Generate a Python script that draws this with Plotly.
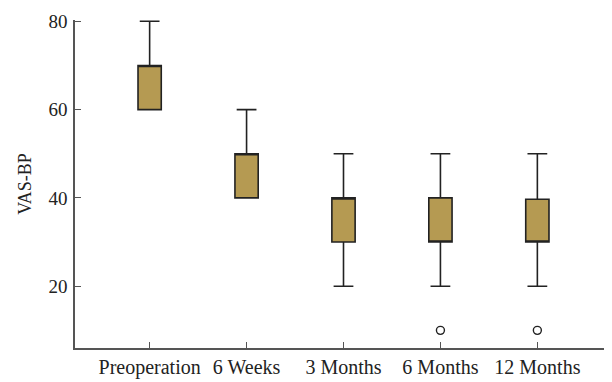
import plotly.graph_objects as go

categories = ["Preoperation", "6 Weeks", "3 Months", "6 Months", "12 Months"]
lower = [60, 40, 20, 20, 20]
q1 = [60, 40, 30, 30, 30]
median = [70, 50, 40, 30, 30]
q3 = [70, 50, 40, 40, 39.7]
upper = [80, 60, 50, 50, 50]
outlier_x = ["6 Months", "12 Months"]
outlier_y = [10, 10]
y_ticks = [20, 40, 60, 80]

fig = go.Figure()
fig.add_trace(go.Box(
    x=categories, q1=q1, median=median, q3=q3,
    lowerfence=lower, upperfence=upper,
    fillcolor="#B59A52", line=dict(color="#222222", width=1.6),
    whiskerwidth=0.85, width=0.24, boxpoints=False, showlegend=False,
))
fig.add_trace(go.Scatter(
    x=outlier_x, y=outlier_y, mode="markers",
    marker=dict(symbol="circle-open", size=8, color="#222222", line=dict(width=1.4)),
    showlegend=False, cliponaxis=False,
))
font = dict(family="Liberation Serif", size=20, color="#222222")
yfont = dict(family="Liberation Serif", size=19, color="#222222")
tfont = dict(family="Liberation Serif", size=18, color="#222222")
fig.update_layout(
    width=604, height=374,
    margin=dict(l=67, r=0, t=12, b=34, autoexpand=False),
    plot_bgcolor="white", paper_bgcolor="white",
    font=font,
    xaxis=dict(
        type="category", categoryorder="array", categoryarray=categories,
        range=[-0.77, 4.77], showline=True, linecolor="#555555", linewidth=1.5,
        ticks="inside", ticklen=6, tickcolor="#555555", showgrid=False,
        zeroline=False, tickfont=font, automargin=False,
    ),
    yaxis=dict(
        range=[6, 80.3], tickvals=y_ticks, showline=True, linecolor="#555555",
        linewidth=1.5, ticks="inside", ticklen=6, tickcolor="#555555",
        showgrid=False, zeroline=False, tickfont=yfont, automargin=False,
        ticklabelstandoff=2,
        title=dict(text="VAS-BP", font=tfont, standoff=12),
    ),
)
fig.write_html("out.html")
